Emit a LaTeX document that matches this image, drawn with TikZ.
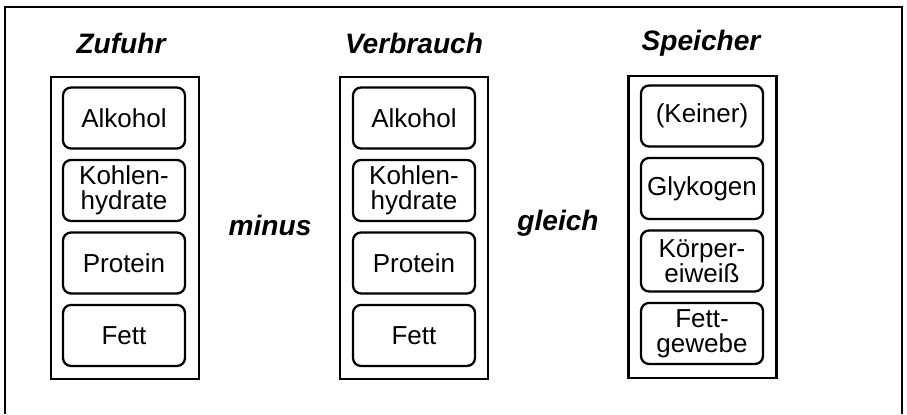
\documentclass[tikz,border=0pt]{standalone}
\usepackage{fontspec}
\setmainfont{Liberation Sans}
\usetikzlibrary{positioning}

\tikzset{
  item/.style={draw, rounded corners=0.16cm, line width=1.3pt, minimum width=2.44cm, minimum height=1.22cm, align=center, inner sep=1pt, font=\fontsize{14.8}{14}\selectfont},
  column/.style={draw, line width=1.6pt, minimum width=2.96cm, minimum height=6.04cm},
  head/.style={font=\fontsize{16}{18}\selectfont\bfseries\itshape},
}

\begin{document}
\begin{tikzpicture}[x=0.02cm, y=-0.02cm]

\useasboundingbox (0,0) rectangle (907,414);
\draw[line width=1.4pt] (5,414) -- (5,7) -- (902,7) -- (902,414);

% Zufuhr
\node[head] (zuhead) at (121,43) {Zufuhr};
\node[column] (zucol) at (125,228) {};
\node[item] (zualk) at (124,118) {Alkohol};
\node[item, below of=zualk, node distance=1.45cm] (zukh) {Kohlen-\\hydrate};
\node[item, below of=zukh, node distance=1.45cm] (zuprot) {Protein};
\node[item, below of=zuprot, node distance=1.45cm] (zufett) {Fett};

\node[head] (minus) at (270,225) {minus};

% Verbrauch
\node[head] (vbhead) at (414,43) {Verbrauch};
\node[column] (vbcol) at (414,228) {};
\node[item] (vbalk) at (414,118) {Alkohol};
\node[item, below of=vbalk, node distance=1.45cm] (vbkh) {Kohlen-\\hydrate};
\node[item, below of=vbkh, node distance=1.45cm] (vbprot) {Protein};
\node[item, below of=vbprot, node distance=1.45cm] (vbfett) {Fett};

\node[head] (gleich) at (558,223) {gleich};

% Speicher
\node[head] (sphead) at (701,43) {Speicher};
\node[column] (spcol) at (702.5,227) {};
\node[item] (spkein) at (702,116) {(Keiner)};
\node[item, below of=spkein, node distance=1.45cm] (spglyk) {Glykogen};
\node[item, below of=spglyk, node distance=1.45cm] (speiw) {Körper-\\eiweiß};
\node[item, below of=speiw, node distance=1.45cm] (spfett) {Fett-\\gewebe};

\end{tikzpicture}
\end{document}
